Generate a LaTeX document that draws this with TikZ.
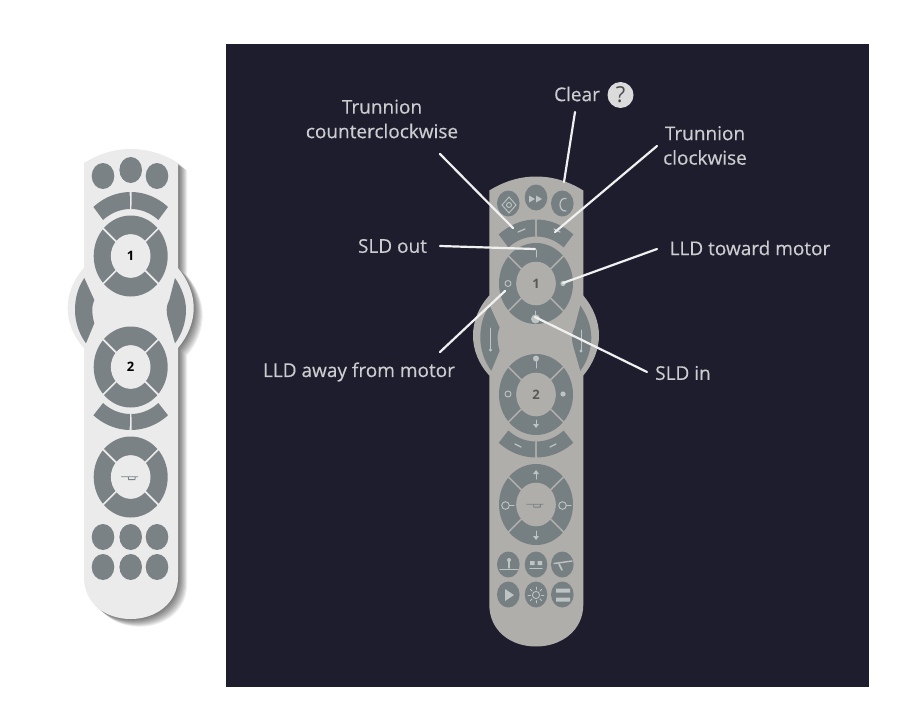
\documentclass[tikz,border=0pt]{standalone}
\usepackage{fontspec}
\usetikzlibrary{calc}
\setmainfont{Open Sans}
\newfontfamily\labfont[FakeBold=0.3]{Open Sans}
\definecolor{panel}{RGB}{30,29,45}
\definecolor{bodyL}{RGB}{235,235,235}
\definecolor{btnL}{RGB}{122,130,133}
\definecolor{bodyR}{RGB}{176,174,170}
\definecolor{btnR}{RGB}{118,128,130}
\definecolor{glyph}{RGB}{190,195,195}
\definecolor{lbl}{RGB}{205,205,208}
\newcommand{\myseg}[8]{\fill plot[domain=#3:#4,samples=16] ({#1+#5*cos(\x)},{#2-#6*sin(\x)}) -- plot[domain=#4:#3,samples=16] ({#1+#7*cos(\x)},{#2-#8*sin(\x)}) -- cycle;}
\newcommand{\myshape}{(84,163) .. controls (100,153) and (116,149) .. (130.7,149) .. controls (146,149) and (162,153) .. (178,163) -- (178,268) .. controls (188,280) and (193.7,294) .. (193.7,308) .. controls (193.7,322) and (188,336) .. (178,348) -- (178,577) .. controls (178,603) and (156,619) .. (130.7,619) .. controls (105,619) and (84,603) .. (84,577) -- (84,348) .. controls (73,336) and (67.7,322) .. (67.7,308) .. controls (67.7,294) and (73,280) .. (84,268) -- cycle}
\newcommand{\myring}[2]{%
  \fill[even odd rule] (130.7,#1) ellipse[x radius=37,y radius=40.5] (130.7,#1) ellipse[x radius=19.5,y radius=21.5];
  \draw[#2,line width=1.7pt] (130.7-29,#1-29) -- (130.7+29,#1+29) (130.7-29,#1+29) -- (130.7+29,#1-29);
  \fill[#2] (130.7,#1) ellipse[x radius=19.8,y radius=21.8];}
\newcommand{\myremote}[3]{%
  \fill[#1] \myshape;
  \begin{scope}[fill=#2]
    \foreach \px/\py/\nn in {103/176/a,130.7/170/b,157/176/c,103/537/d,130.7/537/e,157/537/f,103/567/g,130.7/567/h,157/567/i}
      \fill (\px,\py) ellipse[x radius=11.3,y radius=13];
    \myseg{130.7}{256}{50}{89}{58}{64}{43}{47}
    \myseg{130.7}{256}{91}{130}{58}{64}{43}{47}
    \myseg{130.7}{367}{-50}{-89}{58}{63}{43}{47}
    \myseg{130.7}{367}{-91}{-130}{58}{63}{43}{47}
    \myring{256}{#1}
    \myring{367}{#1}
    \myring{477}{#1}
    \fill (84.3,278) .. controls (77.8,287.4) and (75,298.6) .. (75,310) .. controls (75,322) and (79,334) .. (86,343.3) -- (94.3,323.3) .. controls (92.8,318) and (92.3,314) .. (92.3,310) .. controls (92.3,306) and (92.8,304) .. (94.3,300) -- cycle;
    \fill (175,278) .. controls (181.5,287.4) and (186,298.6) .. (186,310) .. controls (186,322) and (182,334) .. (175,343.3) -- (169.3,323.3) .. controls (167.5,318) and (166.7,314) .. (166.7,310) .. controls (166.7,306) and (167.5,304) .. (169.3,300) -- cycle;
  \end{scope}
  \draw[#2,line width=.8pt] (121,476.8) -- (138,476.8) (128.3,476.8) -- (128.6,479.6) -- (135,479.6) -- (135.2,476.8);
  \node[numlab,text=#3] at (130.7,256) {1};
  \node[numlab,text=#3] at (130.7,367) {2};
}
\tikzset{
  numlab/.style={font=\bfseries\fontsize{13}{13}\selectfont,inner sep=0pt},
  lab/.style={font=\labfont\fontsize{19}{24.5}\selectfont,text=lbl,align=center,inner sep=0pt},
  conn/.style={draw=white!94!black,line width=2.2pt,line cap=round},
  gl/.style={draw=glyph,line width=1pt,line cap=round},
  glf/.style={fill=glyph},
}
\begin{document}
\begin{tikzpicture}[x=1pt,y=-1pt]
\useasboundingbox (0,0) rectangle (917,706);
\fill[white] (0,0) rectangle (917,706);
% left remote shadow
\foreach \i in {9,8,...,1}
  \fill[black,opacity=.07,shift={(\i*1.0,\i*0.85)}] \myshape;
\myremote{bodyL}{btnL}{black}
% dark panel
\fill[panel] (226,44) rectangle (869,687);
% right remote
\begin{scope}[shift={(405.3,27.5)}]
\myremote{bodyR}{btnR}{black!65}
\end{scope}
% top row
\draw[gl,line width=.9pt] (509,197) -- (516,205) -- (509,213) -- (502,205) -- cycle;
\draw[gl,line width=.9pt] (509,205) circle[radius=2.5];
\fill[glf] (529,195.5) -- (535,199) -- (529,202.5) -- cycle (536,195.5) -- (542,199) -- (536,202.5) -- cycle;
\draw[gl,line width=1.2pt] (566,198.5) .. controls (558,197) and (558,212) .. (566,211);
% trunnion
\draw[gl,line width=1.2pt] (518,232) -- (525,229);
\draw[gl,line width=1.2pt] (554,229) -- (560,232);
% ring 1
\draw[gl,line width=.9pt] (508,283.5) circle[radius=3];
\fill[glf] (563,283.5) circle[radius=2.6];
\draw[gl] (536,250) -- (536,257);
\fill[glf] (535.5,319) circle[radius=4.5];
\draw[gl] (535.5,311) -- (535.5,317);
% sides
\draw[gl] (490,328) -- (490,350);
\fill[glf] (490.5,350) circle[radius=1.6];
\draw[gl] (581,330) -- (581,351);
\fill[glf] (581,351) circle[radius=1.6];
% ring 2
\draw[gl,line width=.9pt] (508,394) circle[radius=3];
\fill[glf] (563,394) circle[radius=2.6];
\fill[glf] (536,358.5) circle[radius=3];
\draw[gl] (536,361) -- (536,368);
\fill[glf] (536,428) -- (533,424) -- (539,424) -- cycle;
\draw[gl] (536,420) -- (536,425);
% lower arcs
\draw[gl,line width=1.3pt] (515,444) -- (521,447);
\draw[gl,line width=1.3pt] (550,447) -- (556,444);
% ring 3
\fill[glf] (536,470) -- (533,474) -- (539,474) -- cycle;
\draw[gl] (536,473) -- (536,479);
\fill[glf] (536,540) -- (533,536) -- (539,536) -- cycle;
\draw[gl] (536,531) -- (536,537);
\draw[gl,line width=.9pt] (505.5,505.5) circle[radius=3.8];
\draw[gl] (509,505.5) -- (514,505.5);
\draw[gl,line width=.9pt] (562.5,505.5) circle[radius=3.8];
\draw[gl] (566,505.5) -- (571,505.5);
% bottom icons
\draw[gl,line width=1.5pt] (500,569.5) -- (518,569.5);
\draw[gl,line width=1.4pt] (509,568) -- (509,561);
\fill[glf] (509,560) circle[radius=2];
\fill[glf] (530,561) rectangle (534.5,565) (537.5,561) rectangle (542,565);
\draw[gl,line width=1.2pt] (530,568.5) -- (542,568.5);
\draw[gl,line width=1.4pt] (554,563.5) -- (572,561);
\draw[gl,line width=1.6pt] (559,564) -- (562,570);
\fill[glf] (505,589) -- (514,595) -- (505,601) -- cycle;
\draw[gl,line width=.9pt] (536,595) circle[radius=3.6];
\foreach \a in {0,45,...,315}
  \draw[gl,line width=.8pt] ($(536,595)+(\a:5.5)$) -- ($(536,595)+(\a:8)$);
\fill[glf] (556,588.5) rectangle (570,592.5) (556,597.5) rectangle (570,601.5);
% labels
\node[lab] (tccw) at (382,119) {Trunnion\\counterclockwise};
\node[lab] (sldout) at (392.5,246) {SLD out};
\node[lab] (clr) at (577,94) {Clear};
\node[circle,fill=black!14,minimum size=26pt,inner sep=0pt,font=\fontsize{22}{22}\selectfont,text=black!70] (qm) at (620.5,95) {?};
\node[lab] (tcw) at (705,145.5) {Trunnion\\clockwise};
\node[lab] (lldt) at (750,248) {LLD toward motor};
\node[lab] (llda) at (359,372) {LLD away from motor};
\node[lab] (sldin) at (683,373) {SLD in};
% connector ends
\coordinate (a1) at (440,154); \coordinate (b1) at (513,228);
\coordinate (a2) at (440,246); \coordinate (b2) at (535,249);
\coordinate (a3) at (575,112); \coordinate (b3) at (564,182);
\coordinate (a4) at (657,146); \coordinate (b4) at (555,232);
\coordinate (a5) at (657,249); \coordinate (b5) at (563,283);
\coordinate (a6) at (440,352); \coordinate (b6) at (505,291);
\coordinate (a7) at (647,372); \coordinate (b7) at (535,317);
\foreach \n in {1,...,7} \draw[conn] (a\n) -- (b\n);
\end{tikzpicture}
\end{document}
